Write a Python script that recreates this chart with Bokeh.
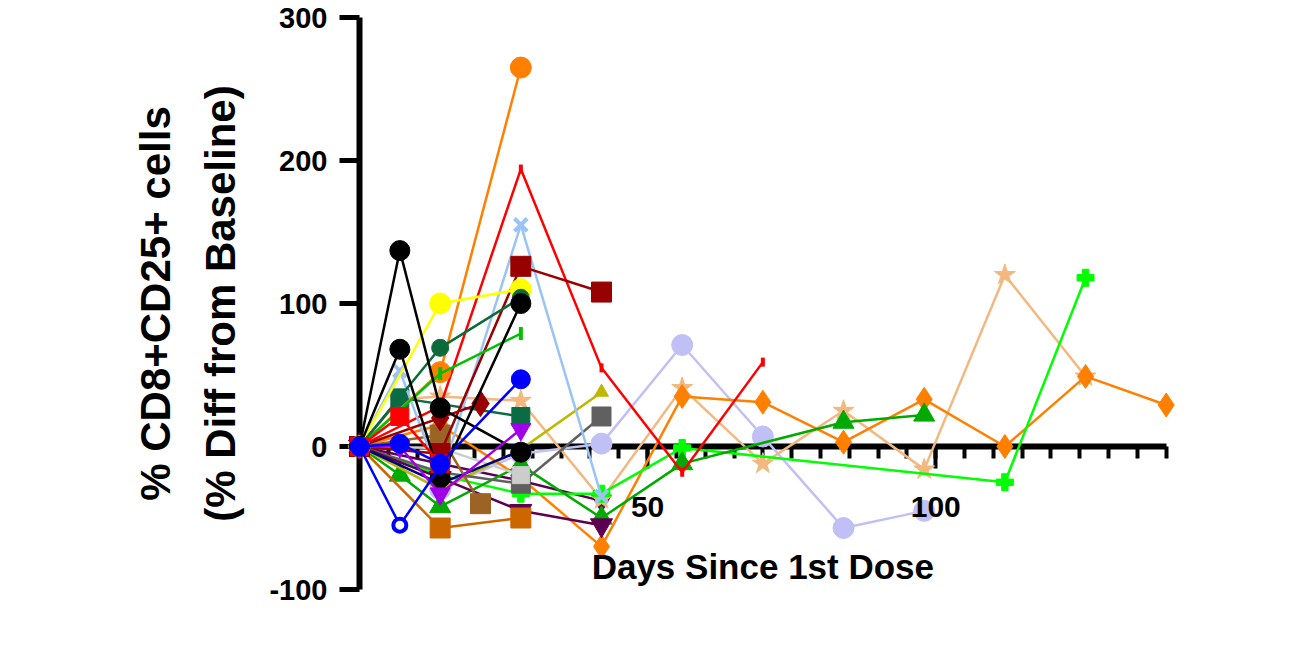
import math
from bokeh.plotting import figure
from bokeh.models import Range1d, SingleIntervalTicker, FixedTicker, LinearAxis
from bokeh.core.properties import value
from bokeh.embed import file_html
from bokeh.resources import INLINE

# ---------------- data (days since 1st dose, % diff from baseline) ----------------
black_a_days = [0, 7, 14, 28]
black_a_vals = [0, 137, 27, -4]

black_b_days = [0, 7, 14, 28]
black_b_vals = [0, 68, -22, 100]

yellow_days = [0, 14, 28]
yellow_vals = [0, 100, 110]

dkgreen_c_days = [0, 14, 28]
dkgreen_c_vals = [0, 69, 104]

orange_c_days = [0, 14, 28]
orange_c_vals = [0, 52, 265]

red_dash_days = [0, 14, 28, 42, 56, 70]
red_dash_vals = [0, 28, 194, 55, -18, 59]

ltblue_x_days = [0, 7, 14, 28, 42]
ltblue_x_vals = [0, 53, -23, 155, -35]

dkred_sq_days = [0, 14, 28, 42]
dkred_sq_vals = [0, -5, 126, 108]

dkred_di_days = [0, 14, 21]
dkred_di_vals = [0, 20, 30]

green_i_days = [0, 14, 28]
green_i_vals = [0, 51, 79]

blue_f_days = [0, 7, 14]
blue_f_vals = [0, -55, -14]

navy_days = [0, 14, 28]
navy_vals = [0, -26, -3]

purple_days = [0, 7, 14, 28]
purple_vals = [0, 0, -33, 12]

green_tri_days = [0, 7, 14, 28, 42, 56, 84, 98]
green_tri_vals = [0, -20, -42, -13, -50, -12, 17, 22]

ltgreen_plus_days = [0, 14, 28, 42, 56, 112, 126]
ltgreen_plus_vals = [0, -20, -33, -33, -1, -25, 118]

lavender_days = [0, 14, 28, 42, 56, 70, 84, 98]
lavender_vals = [0, -30, -5, 2, 71, 7, -57, -45]

orange_di_days = [0, 14, 28, 42, 56, 70, 84, 98, 112, 126, 140]
orange_di_vals = [0, 15, -22, -70, 35, 31, 3, 33, 0, 49, 29]

tan_star_days = [0, 7, 14, 28, 42, 56, 70, 84, 98, 112, 126]
tan_star_vals = [0, 33, 35, 32, -37, 41, -12, 25, -16, 120, 49]

red_sq_days = [0, 7, 14]
red_sq_vals = [0, 21, -12]

dkgreen_sq_days = [0, 7, 28]
dkgreen_sq_vals = [0, 34, 21]

brown_sq_days = [0, 14, 21]
brown_sq_vals = [0, 8, -40]

dkorange_sq_days = [0, 14, 28]
dkorange_sq_vals = [0, -57, -50]

dkpurple_a_days = [0, 14, 28, 42]
dkpurple_a_vals = [0, -22, -45, -55]

dkpurple_b_days = [0, 28, 42]
dkpurple_b_vals = [0, -24, -38]

gray_sq_days = [0, 14, 28, 42]
gray_sq_vals = [0, -18, -26, 21]

olive_days = [0, 14, 28, 42]
olive_vals = [0, -30, -2, 38]

ltgray_sq_days = [0, 14, 28]
ltgray_sq_vals = [0, -1, -20]

blue_c_days = [0, 7, 14, 28]
blue_c_vals = [0, 2, -12, 47]

x_tick_values = [50, 100]
x_tick_labels = ["50", "100"]
x_minor_step = 5
x_max = 140
y_ticks = [-100, 0, 100, 200, 300]
y_tick_labels = ["-100", "0", "100", "200", "300"]

x_title = "Days Since 1st Dose"
y_title = "% CD8+CD25+ cells\n(% Diff from Baseline)"

# ---------------- styles ----------------
FONT = "Liberation Sans"

series = [
    # days, vals, color, marker, size, kwargs
    (dkpurple_b_days, dkpurple_b_vals, "#5E0052", "inverted_triangle", 20, {}),
    (lavender_days, lavender_vals, "#C0C0F6", "circle", 21, {}),
    (tan_star_days, tan_star_vals, "#F2B880", "star", 22, {}),
    (orange_di_days, orange_di_vals, "#FF8000", "diamond", 24, {}),
    (ltgreen_plus_days, ltgreen_plus_vals, "#00FF00", "plus", 17, {}),
    (green_tri_days, green_tri_vals, "#00AA00", "triangle", 21, {}),
    (olive_days, olive_vals, "#BDB800", "triangle", 14, {}),
    (gray_sq_days, gray_sq_vals, "#606060", "square", 19, {}),
    (dkpurple_a_days, dkpurple_a_vals, "#5E0052", "inverted_triangle", 22, {}),
    (dkorange_sq_days, dkorange_sq_vals, "#CC6600", "square", 20, {}),
    (ltgray_sq_days, ltgray_sq_vals, "#CCCCCC", "square", 17, {}),
    (navy_days, navy_vals, "#000080", "inverted_triangle", 20, {}),
    (brown_sq_days, brown_sq_vals, "#9C6424", "square", 20, {}),
    (dkgreen_sq_days, dkgreen_sq_vals, "#0B6B45", "square", 18, {}),
    (red_dash_days, red_dash_vals, "#FF0000", "dash", 9, {"angle": math.pi / 2}),
    (ltblue_x_days, ltblue_x_vals, "#99C4F5", "x", 18, {}),
    (dkred_sq_days, dkred_sq_vals, "#990000", "square", 20, {}),
    (dkred_di_days, dkred_di_vals, "#990000", "diamond", 26, {}),
    (orange_c_days, orange_c_vals, "#FF8000", "circle", 21, {}),
    (yellow_days, yellow_vals, "#FFFF00", "circle", 21, {}),
    (dkgreen_c_days, dkgreen_c_vals, "#0B6B3A", "circle", 17, {}),
    (green_i_days, green_i_vals, "#00C000", "dash", 13, {"angle": math.pi / 2}),
    (black_b_days, black_b_vals, "#000000", "circle", 20, {}),
    (black_a_days, black_a_vals, "#000000", "circle", 20, {}),
    (purple_days, purple_vals, "#A000E8", "inverted_triangle", 20, {}),
    (red_sq_days, red_sq_vals, "#FF0000", "square", 18, {}),
    (blue_f_days, blue_f_vals, "#0000FF", "circle", 13, {"hollow": True}),
    (blue_c_days, blue_c_vals, "#0000FF", "circle", 19, {}),
]

p = figure(
    width=1280, height=640,
    x_range=Range1d(0, 143), y_range=Range1d(-100, 300),
    output_backend="svg", toolbar_location=None,
    min_border_left=359, min_border_right=97,
    min_border_top=17, min_border_bottom=51,
)
p.outline_line_color = None
p.xgrid.visible = False
p.ygrid.visible = False
p.background_fill_color = "white"

# x axis crossing at y = 0: short ticks every 5 days
minor_positions = list(range(0, x_max + 1, x_minor_step))
xa = p.xaxis[0]
xa.fixed_location = 0
xa.bounds = (0, x_max)
xa.ticker = FixedTicker(ticks=[], minor_ticks=minor_positions)
xa.axis_line_width = 6
xa.axis_line_color = "black"
xa.minor_tick_line_width = 4
xa.minor_tick_out = 12
xa.minor_tick_in = 0
xa.major_tick_out = 0
xa.major_tick_in = 0
xa.major_label_standoff = 0

# long ticks at the labelled days
xa2 = LinearAxis(fixed_location=0, bounds=(0, x_max),
                 ticker=FixedTicker(ticks=[], minor_ticks=x_tick_values))
xa2.axis_line_color = None
xa2.minor_tick_line_width = 4
xa2.minor_tick_out = 22
xa2.minor_tick_in = 0
xa2.major_tick_out = 0
xa2.major_tick_in = 0
xa2.major_label_standoff = 0
p.add_layout(xa2, "below")

# y axis
ya = p.yaxis[0]
ya.bounds = (-100, 300)
ya.ticker = FixedTicker(ticks=y_ticks, minor_ticks=[])
ya.major_label_overrides = {t: s for t, s in zip(y_ticks, y_tick_labels)}
ya.axis_line_width = 6
ya.major_tick_line_width = 5
ya.major_tick_out = 20
ya.major_tick_in = 0
ya.minor_tick_out = 0
ya.minor_tick_in = 0
ya.major_label_text_font = FONT
ya.major_label_text_font_style = "bold"
ya.major_label_text_font_size = "29px"
ya.major_label_text_color = "black"
ya.major_label_standoff = 12
ya.axis_label = y_title
ya.axis_label_text_font = FONT
ya.axis_label_text_font_style = "bold"
ya.axis_label_text_font_size = "42px"
ya.axis_label_text_line_height = 1.4
ya.axis_label_text_color = "black"
ya.axis_label_standoff = 22

# series lines and markers
for days, vals, color, marker, size, kw in series:
    lr = p.line(days, vals, line_color=color, line_width=2.5)
    lr.level = "overlay"
    extra = {}
    if "angle" in kw:
        extra["angle"] = kw["angle"]
    if marker in ("x", "dash"):
        sr = p.scatter(days, vals, marker=marker, size=size, line_color=color,
                       line_width=4, **extra)
    elif kw.get("hollow"):
        sr = p.scatter(days, vals, marker=marker, size=size, line_color=color,
                       fill_color="white", line_width=4)
    else:
        sr = p.scatter(days, vals, marker=marker, size=size, line_color=color,
                       fill_color=color, line_width=1)
    sr.level = "overlay"

# x tick labels and x axis title (axis drawn at y = 0)
tl = p.text(x=x_tick_values, y=[-42] * len(x_tick_values), text=x_tick_labels,
            text_font=value(FONT), text_font_style="bold", text_font_size="30px",
            text_align="center", text_baseline="middle", text_color="black")
tl.level = "overlay"
tt = p.text(x=[x_max / 2], y=[-84], text=[x_title],
            text_font=value(FONT), text_font_style="bold", text_font_size="35px",
            text_align="center", text_baseline="middle", text_color="black")
tt.level = "overlay"

open("out.html", "w").write(file_html(p, INLINE))
